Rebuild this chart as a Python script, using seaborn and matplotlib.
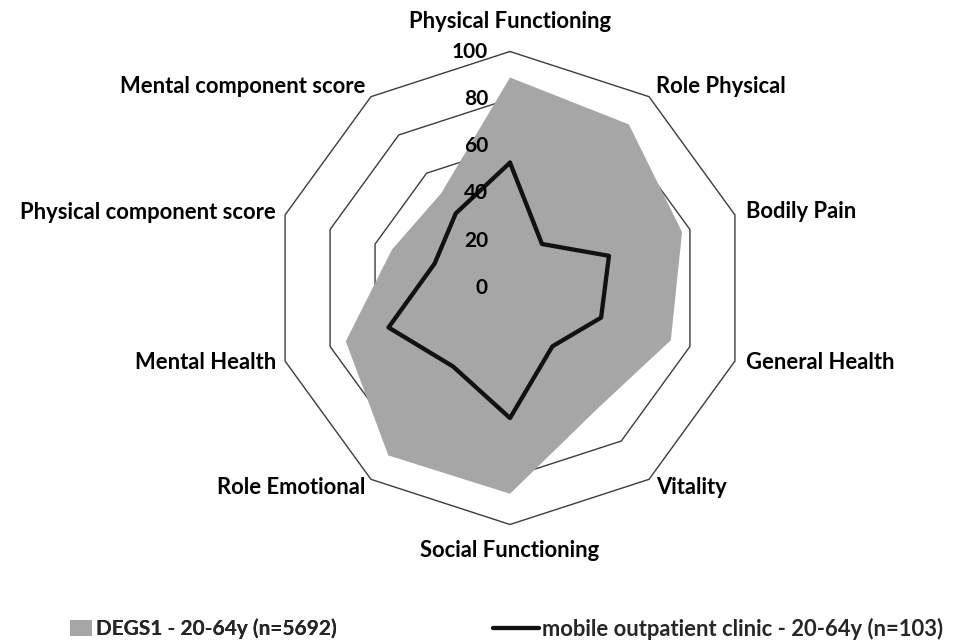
import matplotlib

matplotlib.use("Agg")

import matplotlib.pyplot as plt
import numpy as np
import pandas as pd
import seaborn as sns
from matplotlib.lines import Line2D
from matplotlib.patches import Patch

CATEGORIES = [
    "Physical Functioning",
    "Role Physical",
    "Bodily Pain",
    "General Health",
    "Vitality",
    "Social Functioning",
    "Role Emotional",
    "Mental Health",
    "Physical component score",
    "Mental component score",
]
DEGS1_VALUES = [89, 85.5, 76.5, 71.5, 63, 87, 87.5, 73, 52.5, 49.5]
CLINIC_VALUES = [53, 23, 44, 40.5, 30.5, 55, 41, 54, 33.5, 39]
RADIAL_TICKS = [0, 20, 40, 60, 80, 100]
DEGS1_LABEL = "DEGS1 - 20-64y (n=5692)"
CLINIC_LABEL = "mobile outpatient clinic - 20-64y (n=103)"

GRAY = "#a6a6a6"
FONT = ["Lato", "DejaVu Sans"]
FONT_SIZE = 15.8
TICK_SIZE = 15

# label offsets (pixels) from the outer vertex and alignment
LABEL_LAYOUT = [
    (0, 30, "center"),
    (7, 10, "left"),
    (11, 3, "left"),
    (11, -1, "left"),
    (7, -8, "left"),
    (0, -26, "center"),
    (-6, -8, "right"),
    (-9, -1, "right"),
    (-9, 2, "right"),
    (-6, 10, "right"),
]


def to_xy(values):
    n = len(values)
    theta = np.deg2rad(90 - 360 / n * np.arange(n))
    v = np.asarray(values, dtype=float)
    return v * np.cos(theta), v * np.sin(theta)


def main() -> None:
    sns.set_theme(style="white")
    plt.rcParams["font.family"] = FONT

    fig = plt.figure(figsize=(9.57, 6.41), dpi=100)
    ax = fig.add_axes([0, 0, 1, 1])
    scale = 2.365  # pixels per unit
    cx, cy = 510, 641 - 288
    ax.set_xlim(-cx / scale, (957 - cx) / scale)
    ax.set_ylim(-cy / scale, (641 - cy) / scale)
    ax.set_axis_off()

    n = len(CATEGORIES)

    # grid decagons
    for level in RADIAL_TICKS[1:]:
        gx, gy = to_xy([level] * n)
        ax.plot(np.append(gx, gx[0]), np.append(gy, gy[0]),
                color="#3c3c3c", lw=1.0, zorder=1)

    # DEGS1 area
    dx, dy = to_xy(DEGS1_VALUES)
    ax.fill(dx, dy, color=GRAY, lw=0, zorder=2)

    # clinic line
    lx, ly = to_xy(CLINIC_VALUES)
    df = pd.DataFrame({"x": np.append(lx, lx[0]), "y": np.append(ly, ly[0])})
    sns.lineplot(data=df, x="x", y="y", sort=False, estimator=None,
                 color="#111111", lw=3.1, ax=ax, zorder=3)
    ax.set_xlabel("")
    ax.set_ylabel("")

    # radial tick labels
    for t in RADIAL_TICKS:
        ax.annotate(str(t), xy=(0, t), xytext=(-22, 0), textcoords="offset pixels",
                    ha="right", va="center", fontsize=TICK_SIZE,
                    fontweight="bold", color="black", zorder=4)

    # category labels
    ox, oy = to_xy([100] * n)
    for name, x, y, (px, py, ha) in zip(CATEGORIES, ox, oy, LABEL_LAYOUT):
        ax.annotate(name, xy=(x, y), xytext=(px, py), textcoords="offset pixels",
                    ha=ha, va="center", fontsize=FONT_SIZE,
                    fontweight="bold", color="black")

    # legend
    leg1 = fig.legend(handles=[Patch(facecolor=GRAY, edgecolor="none")],
                      labels=[DEGS1_LABEL], loc="center left",
                      bbox_to_anchor=(70 / 957, 12 / 641), frameon=False,
                      borderpad=0, borderaxespad=0, handlelength=1.05,
                      handleheight=0.75, handletextpad=0.2,
                      prop={"size": 15, "weight": "bold"})
    fig.add_artist(leg1)
    fig.legend(handles=[Line2D([0], [0], color="#111111", lw=3.1)],
               labels=[CLINIC_LABEL], loc="center left",
               bbox_to_anchor=(493 / 957, 12 / 641), frameon=False,
               borderpad=0, borderaxespad=0, handlelength=2.1,
               handletextpad=0.12,
               prop={"size": FONT_SIZE, "weight": "bold"})

    fig.savefig("out.png", dpi=100, facecolor="white")
    plt.close(fig)


if __name__ == "__main__":
    main()
